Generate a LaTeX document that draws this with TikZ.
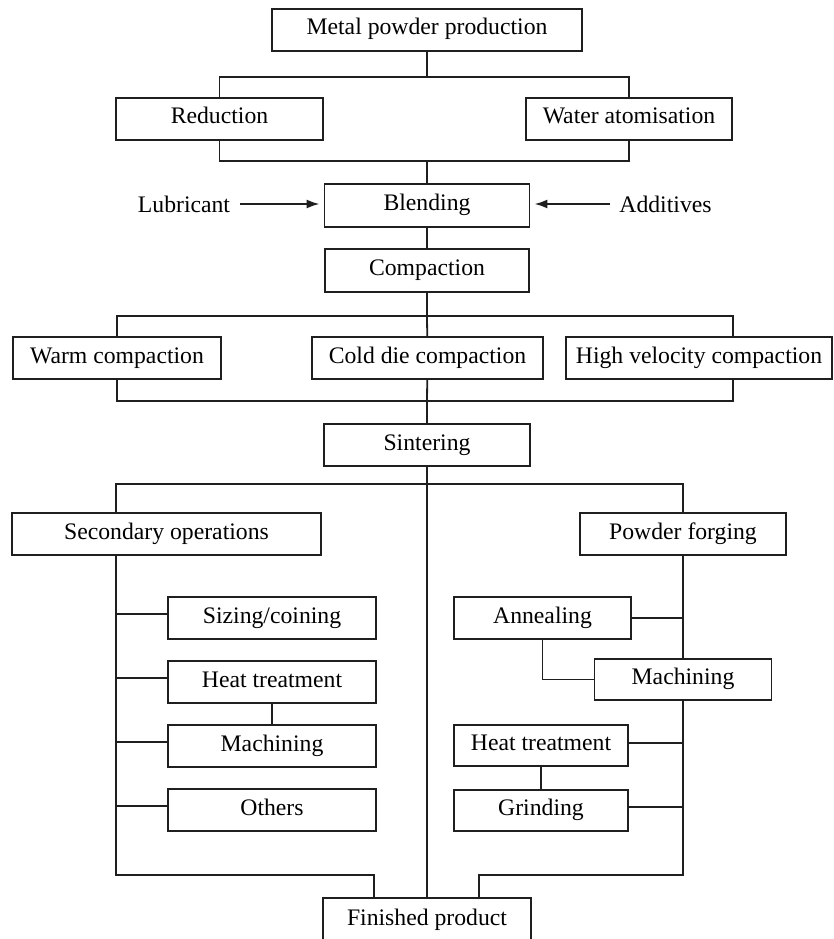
\documentclass[tikz,border=0pt]{standalone}
\usepackage{fontspec}
\setmainfont{Liberation Serif}
\usetikzlibrary{arrows.meta}
\definecolor{ln}{gray}{0.12}
\begin{document}
\begin{tikzpicture}[x=1pt,y=-1pt,
  box/.style={draw=ln, line width=1.8pt, inner sep=0pt, minimum height=42pt,
    text height=16pt, text depth=6pt, font=\fontsize{23.7}{28}\selectfont},
  lbl/.style={inner ysep=0pt, text height=16pt, text depth=0pt,
    font=\fontsize{23.7}{28}\selectfont},
  link/.style={draw=ln, line width=1.8pt},
  arr/.style={link, line width=2pt, -{Latex[length=13pt,width=9pt]}, shorten >=4pt}
]
\useasboundingbox (0,0) rectangle (833,939);

% nodes
\node[box, minimum width=310pt] (top) at (427,30) {Metal powder production};
\node[box, minimum width=207pt] (red) at (219.5,119) {Reduction};
\node[box, minimum width=206pt] (water) at (629,119) {Water atomisation};
\node[box, minimum width=205pt, minimum height=43pt] (blend) at (427,205.5) {Blending};
\node[lbl, inner xsep=10pt] (lub) at (184,204) {Lubricant};
\node[lbl, inner xsep=9pt] (add) at (665.5,204) {Additives};
\node[box, minimum width=204pt, minimum height=43pt] (comp) at (427,270.5) {Compaction};
\node[box, minimum width=208pt] (warm) at (117,358) {Warm compaction};
\node[box, minimum width=231pt] (cold) at (427.5,358) {Cold die compaction};
\node[box, minimum width=266pt] (high) at (699,358) {High velocity compaction};
\node[box, minimum width=206pt] (sinter) at (427,445) {Sintering};
\node[box, minimum width=309pt] (sec) at (166.5,534) {Secondary operations};
\node[box, minimum width=206pt] (forge) at (683,534) {Powder forging};
\node[box, minimum width=208pt] (size) at (272,618) {Sizing/coining};
\node[box, minimum width=208pt] (heatL) at (272,682) {Heat treatment};
\node[box, minimum width=208pt] (machL) at (272,746) {Machining};
\node[box, minimum width=208pt] (oth) at (272,810) {Others};
\node[box, minimum width=177pt] (ann) at (542.5,618) {Annealing};
\node[box, minimum width=177pt, minimum height=41pt] (machR) at (683,679.5) {Machining};
\node[box, minimum width=174pt, minimum height=41pt] (heatR) at (541,745.5) {Heat treatment};
\node[box, minimum width=174pt, minimum height=41pt] (grind) at (541,810.5) {Grinding};
\node[box, minimum width=208pt, minimum height=44pt] (fin) at (427,920) {Finished product};

% junction coordinates
\coordinate (j1) at (427,77);
\coordinate (j2) at (427,161);
\coordinate (j3) at (427,316);
\coordinate (j4) at (427,401);
\coordinate (j5) at (427,484);
\coordinate (hx) at (733,358);
\coordinate (lb) at (116,0);
\coordinate (rb) at (683,0);
\coordinate (lf) at (374,875);
\coordinate (rf) at (479,875);

% upper part
\draw[link] (top) -- (j1);
\draw[link] (red.north) |- (j1) -| (water.north);
\draw[link] (red.south) |- (j2) -| (water.south);
\draw[link] (j2) -- (blend);
\draw[arr] (lub.east) -- (lub.east -| blend.west);
\draw[arr] (add.west) -- (add.west -| blend.east);
\draw[link] (blend) -- (comp);
\draw[link] (comp) -- (j3);
\draw[link] (warm.north) |- (j3) -| (hx |- high.north);
\draw[link] (j3) -- (cold);
\draw[link] (warm.south) |- (j4) -| (hx |- high.south);
\draw[link] (cold) -- (j4) -- (sinter);
\draw[link] (sinter) -- (fin);
\draw[link] (lb |- sec.north) |- (j5) -| (forge.north);

% left branch
\draw[link] (lb |- sec.south) -- (lb |- lf) -| (fin.north -| lf);
\foreach \n in {size,heatL,machL,oth}
  \draw[link] ([yshift=4pt]\n.west) coordinate (t) -- (t -| lb);
\draw[link] (heatL) -- (machL);

% right branch
\draw[link] (forge) -- (machR);
\draw[link] (ann.east) -- (ann.east -| rb);
\draw[link] (ann.south) |- (machR.west);
\draw[link] (machR.south) -- (rb |- rf) -| (fin.north -| rf);
\draw[link] ([yshift=2.5pt]heatR.east) coordinate (t) -- (t -| rb);
\draw[link] ([yshift=3.5pt]grind.east) coordinate (t) -- (t -| rb);
\draw[link] (heatR) -- (grind);
\end{tikzpicture}
\end{document}
